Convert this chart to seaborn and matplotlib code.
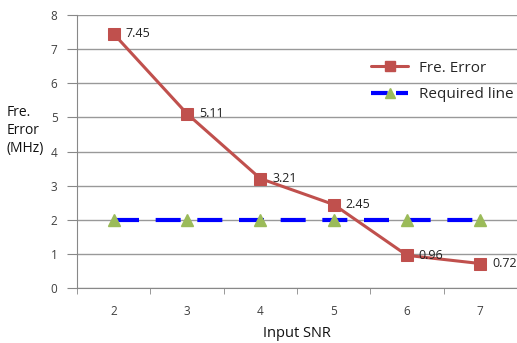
import numpy as np
import pandas as pd
import matplotlib
matplotlib.use("Agg")
import matplotlib.pyplot as plt
import seaborn as sns
from matplotlib.lines import Line2D

# Data
snr = [2, 3, 4, 5, 6, 7]
fre_error = [7.45, 5.11, 3.21, 2.45, 0.96, 0.72]
required = [2, 2, 2, 2, 2, 2]

sns.set_style("white")
plt.rcParams['font.family'] = ['Open Sans', 'DejaVu Sans']

df = pd.DataFrame({'snr': snr, 'err': fre_error, 'req': required})

fig = plt.figure(figsize=(5.17, 3.43), dpi=100)
ax = fig.add_axes([0.149, 0.160, 0.851, 0.796])

sns.lineplot(data=df, x='snr', y='err', ax=ax, color='#C0504D', lw=2.2,
             marker='s', markersize=8, markeredgecolor='#C0504D',
             label='Fre. Error', zorder=3)
sns.lineplot(data=df, x='snr', y='req', ax=ax, color='#0000FF', lw=3,
             dashes=False, label='Required line', zorder=2)
ax.lines[-1].set_dashes([6, 4])
ax.plot(df['snr'], df['req'], ls='none', marker='^', markersize=8,
        color='#9BBB59', zorder=4)

# data labels
for x, y in zip(snr, fre_error):
    ax.text(x + 0.16, y, f"{y:.2f}", fontsize=9, color='#222222',
            va='center', ha='left', clip_on=False)

ax.set_xlim(1.5, 7.5)
ax.set_ylim(0, 8)
ax.set_yticks(range(0, 9))
ax.set_xticks(snr)
ax.set_xticks(np.arange(1.5, 7.6, 1), minor=True)
ax.tick_params(axis='x', which='major', bottom=False, length=0, pad=12,
               labelsize=8.5, labelcolor='#404040')
ax.tick_params(axis='x', which='minor', bottom=True, length=4, color='#888888',
               direction='out')
ax.tick_params(axis='y', left=True, length=7, color='#888888', labelsize=8.5,
               labelcolor='#404040', pad=7)
ax.grid(axis='y', color='#999999', lw=1)
ax.set_axisbelow(True)

for s in ['top', 'right']:
    ax.spines[s].set_visible(False)
for s in ['left', 'bottom']:
    ax.spines[s].set_color('#888888')

ax.set_xlabel('Input SNR', fontsize=10.5, color='#111111', labelpad=6)
ax.set_ylabel('')
fig.text(0.012, 0.695, 'Fre.\nError\n(MHz)', fontsize=10, ha='left', va='top',
         linespacing=1.3, color='#111111')

# legend: rebuild handles with triangles on the required line
handles = [Line2D([], [], color='#C0504D', lw=2.2, marker='s', markersize=7),
           Line2D([], [], color='#0000FF', lw=3, dashes=[4, 2], marker='^',
                  markersize=7, markerfacecolor='#9BBB59', markeredgecolor='#9BBB59')]
ax.legend(handles, ['Fre. Error', 'Required line'], loc='upper left',
          bbox_to_anchor=(0.655, 0.855), frameon=False, fontsize=11,
          handlelength=2.4, handletextpad=0.7, labelspacing=0.75, borderaxespad=0)

fig.savefig('out.png', dpi=100)
